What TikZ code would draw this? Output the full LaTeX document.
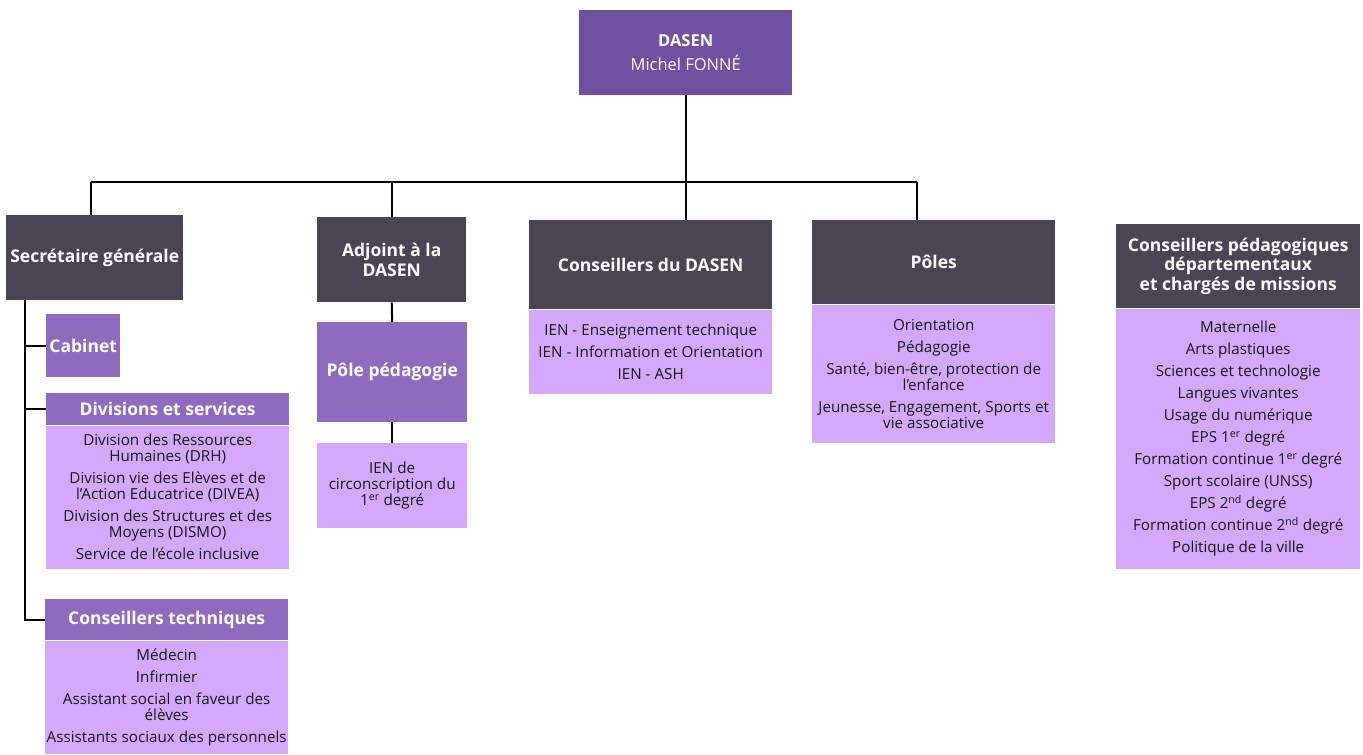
\documentclass[tikz,border=0pt]{standalone}
\usepackage{fontspec}
\setmainfont{Open Sans}
\newcommand{\expo}[1]{\smash{\textsuperscript{#1}}}
\begin{document}
\begin{tikzpicture}[x=1pt,y=-1pt,
  topbox/.style={fill=topColor,text=white,align=center,inner sep=0pt,anchor=north west,font=\fontsize{16.5}{20}\selectfont},
  headbox/.style={fill=headColor,text=white,align=center,inner sep=0pt,anchor=north west,font=\bfseries\fontsize{17.5}{19.5}\selectfont},
  midbox/.style={fill=midColor,text=white,align=center,inner sep=0pt,anchor=north west,font=\bfseries\fontsize{17.5}{19.5}\selectfont},
  listbox/.style={fill=listColor,text=textColor,align=center,inner sep=0pt,anchor=north,font=\fontsize{15.2}{16}\selectfont},
  link/.style={draw=drawColor,line width=2pt}]
\definecolor{topColor}{RGB}{112,80,160}
\definecolor{headColor}{RGB}{74,68,83}
\definecolor{midColor}{RGB}{143,107,192}
\definecolor{listColor}{RGB}{212,168,252}
\definecolor{textColor}{RGB}{22,22,22}
\definecolor{drawColor}{RGB}{0,0,0}
\path[use as bounding box,fill=white] (0,0) rectangle (1363,755);

\node[topbox,minimum width=213pt,minimum height=85pt] (dasen) at (579,10) {{\bfseries DASEN}\\[4pt]Michel FONNÉ};

\node[headbox,minimum width=177pt,minimum height=85pt] (sg) at (6,215) {Secrétaire générale};
\node[headbox,minimum width=149pt,minimum height=85pt] (adj) at (317,217) {Adjoint à la\\DASEN};
\node[headbox,minimum width=243pt,minimum height=89pt] (cdasen) at (529,220) {Conseillers du DASEN};
\node[headbox,minimum width=243pt,minimum height=84pt] (poles) at (812,220) {Pôles};
\node[headbox,minimum width=244pt,minimum height=84pt] (cped) at (1116,224) {Conseillers pédagogiques\\départementaux\\et chargés de missions};

\node[listbox,minimum width=243pt,minimum height=84pt] (cdasenl) at (cdasen.south) {IEN - Enseignement technique\\[6pt]IEN - Information et Orientation\\[6pt]IEN - ASH};
\node[listbox,minimum width=243pt,minimum height=138pt] (polesl) at (poles.south) {Orientation\\[6pt]Pédagogie\\[6pt]Santé, bien-être, protection de\\l’enfance\\[6pt]Jeunesse, Engagement, Sports et\\vie associative};
\node[listbox,minimum width=244pt,minimum height=260pt] (cpedl) at (cped.south) {Maternelle\\[6pt]Arts plastiques\\[6pt]Sciences et technologie\\[6pt]Langues vivantes\\[6pt]Usage du numérique\\[6pt]EPS 1\expo{er} degré\\[6pt]Formation continue 1\expo{er} degré\\[6pt]Sport scolaire (UNSS)\\[6pt]EPS 2\expo{nd} degré\\[6pt]Formation continue 2\expo{nd} degré\\[6pt]Politique de la ville};

\node[midbox,minimum width=74pt,minimum height=63pt] (cab) at (46,314) {Cabinet};
\node[midbox,minimum width=243pt,minimum height=32pt] (divs) at (46,393) {Divisions et services};
\node[listbox,minimum width=243pt,minimum height=143pt] (divsl) at (divs.south) {Division des Ressources\\Humaines (DRH)\\[6pt]Division vie des Elèves et de\\l’Action Educatrice (DIVEA)\\[6pt]Division des Structures et des\\Moyens (DISMO)\\[6pt]Service de l’école inclusive};
\node[midbox,minimum width=243pt,minimum height=41pt] (ctech) at (45,599) {Conseillers techniques};
\node[listbox,minimum width=243pt,minimum height=113pt] (ctechl) at (ctech.south) {Médecin\\[6pt]Infirmier\\[6pt]Assistant social en faveur des\\élèves\\[6pt]Assistants sociaux des personnels};

\node[midbox,minimum width=150pt,minimum height=100pt] (pp) at (317,322) {Pôle pédagogie};
\node[listbox,anchor=north west,minimum width=150pt,minimum height=85pt] (ienc) at (317,443) {IEN de\\circonscription du\\1\expo{er} degré};

\coordinate (busl) at (91,182);
\coordinate (busr) at (917,182);
\coordinate (spine) at (25,300);

\path[link] (busl) -- (busr);
\path[link] (dasen.south) -- (dasen.south |- cdasen.north);
\path[link] (busl) -- (busl |- sg.north);
\path[link] (adj.north |- busl) -- (adj.north);
\path[link] (busr) -- (busr |- poles.north);
\path[link] (spine) |- (ctech.west);
\path[link] (spine |- cab.west) -- (cab.west);
\path[link] (spine |- divs.west) -- (divs.west);
\path[link] (adj.south) -- (pp.north);
\path[link] (pp.south) -- (ienc.north);
\end{tikzpicture}
\end{document}
